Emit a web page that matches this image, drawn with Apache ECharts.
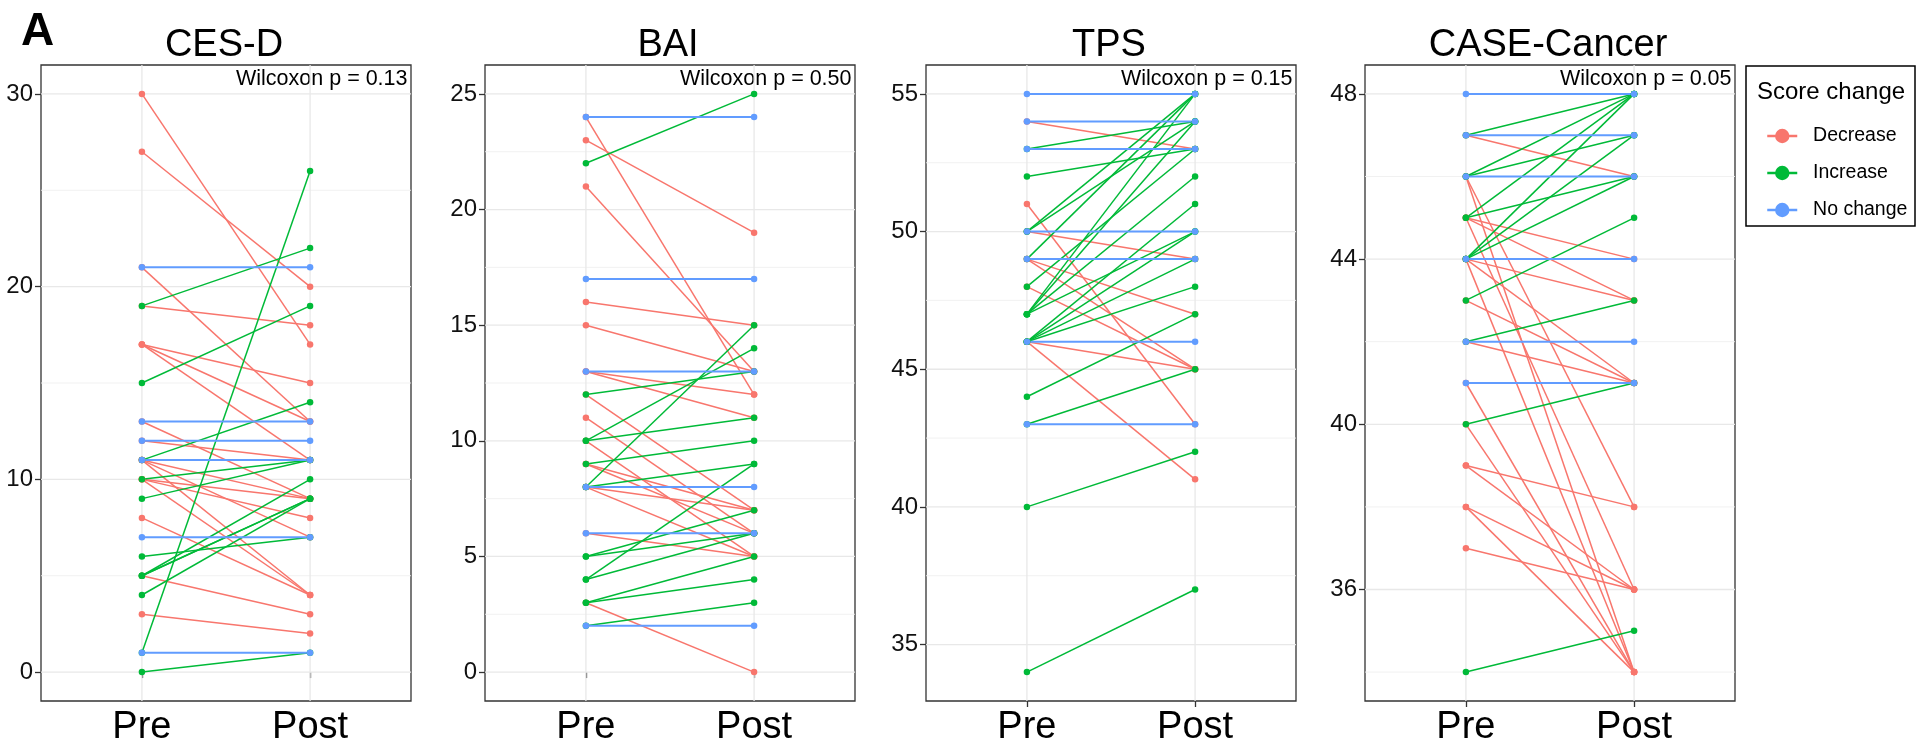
<!DOCTYPE html>
<html><head><meta charset="utf-8">
<script src="https://cdn.jsdelivr.net/npm/echarts@6/dist/echarts.min.js"></script>
<style>html,body{margin:0;padding:0;background:#fff}#c{width:1917px;height:747px}</style>
</head><body><div id="c"></div>
<script>
const panelTitles = ['CES-D', 'BAI', 'TPS', 'CASE-Cancer'];
const pValues = ['0.13', '0.50', '0.15', '0.05'];
const timeLabels = ['Pre', 'Post'];
const changeNames = ['Decrease', 'Increase', 'No change'];
const changeColors = ['#F8766D', '#00BA38', '#619CFF'];

const cesdPre  = [30,27,21,19,17,17,17,13,12,11,11,10,10,10,8,11,5,3, 1,19,15,11,10,9,6,5,5,5,4,0, 21,13,12,11,7,1];
const cesdPost = [17,20,13,18,15,13,11,9,11,9,7,9,8,4,4,4,3,2, 26,22,19,14,11,11,7,10,9,9,9,1, 21,13,12,11,7,1];
const baiPre   = [24,23,21,16,15,13,13,12,11,10,9,9,8,8,6,3, 22,12,10,10,9,8,8,5,5,4,4,3,3,2, 24,17,13,8,6,2];
const baiPost  = [12,19,13,15,13,12,11,7,6,5,7,6,7,5,5,0, 25,13,11,14,10,9,15,7,6,9,6,5,4,3, 24,17,13,8,6,2];
const tpsPre   = [54,51,50,49,49,48,46,46, 53,52,50,49,47,50,47,48,47,46,47,46,46,46,44,43,40,34, 55,54,53,50,49,46,43];
const tpsPost  = [53,43,49,47,45,45,45,41, 54,53,55,55,55,54,54,53,52,51,50,50,49,48,47,45,42,37, 55,54,53,50,49,46,43];
const casePre  = [47,46,46,45,45,45,44,44,44,43,42,41,40,39,39,38,38,37, 47,46,45,44,46,44,45,44,43,42,40,34, 48,47,46,44,42,41];
const casePost = [46,38,34,44,36,43,43,41,34,41,41,34,34,38,36,36,34,36, 48,48,48,48,47,47,46,46,45,43,41,35, 48,47,46,44,42,41];

const cesdTicks = [0,10,20,30];      const cesdMinor = [5,15,25];
const baiTicks  = [0,5,10,15,20,25]; const baiMinor  = [2.5,7.5,12.5,17.5,22.5];
const tpsTicks  = [35,40,45,50,55];  const tpsMinor  = [37.5,42.5,47.5,52.5];
const caseTicks = [36,40,44,48];     const caseMinor = [34,38,42,46];

const panels = [
  {pre: cesdPre, post: cesdPost, ticks: cesdTicks, minor: cesdMinor, min: -1.5, max: 31.5},
  {pre: baiPre, post: baiPost, ticks: baiTicks, minor: baiMinor, min: -1.25, max: 26.25},
  {pre: tpsPre, post: tpsPost, ticks: tpsTicks, minor: tpsMinor, min: 32.95, max: 56.05},
  {pre: casePre, post: casePost, ticks: caseTicks, minor: caseMinor, min: 33.3, max: 48.7}
];

const FONT = 'Liberation Sans, Arial, Helvetica, sans-serif';
const lefts = [41, 485, 926, 1365];
const W = 370, TOP = 65, H = 638;

const grids = [], xAxes = [], yAxes = [], series = [], graphics = [];

function changeIdx(a, b) { return b < a ? 0 : (b > a ? 1 : 2); }

panels.forEach((p, i) => {
  grids.push({left: lefts[i], top: TOP, width: W, height: H, show: true,
    borderColor: '#333', borderWidth: 1.3, backgroundColor: 'transparent', containLabel: false});
  xAxes.push({type: 'value', gridIndex: i, min: 0.4, max: 2.6,
    axisLine: {show: false}, splitLine: {show: false},
    axisTick: {show: true, customValues: [1, 2], length: 6, lineStyle: {color: '#333', width: 1.3}},
    axisLabel: {show: true, customValues: [1, 2], formatter: v => timeLabels[Math.round(v) - 1],
      fontSize: 38, color: '#000', fontFamily: FONT, margin: 8}});
  yAxes.push({type: 'value', gridIndex: i, min: p.min, max: p.max,
    axisLine: {show: false}, splitLine: {show: false},
    axisTick: {show: true, customValues: p.ticks, length: 6, lineStyle: {color: '#333', width: 1.3}},
    axisLabel: {show: true, customValues: p.ticks, fontSize: 24, color: '#111', fontFamily: FONT, margin: 8}});

  const gl = (data, major) => series.push({type: 'line', xAxisIndex: i, yAxisIndex: i, data,
    symbol: 'none', silent: true, animation: false, z: 1, legendHoverLink: false,
    lineStyle: {color: major ? '#e8e8e8' : '#efefef', width: major ? 1.3 : 0.9}});
  p.minor.forEach(v => gl([[0.4, v], [2.6, v]], false));
  p.ticks.forEach(v => gl([[0.4, v], [2.6, v]], true));
  [1, 2].forEach(x => gl([[x, p.min], [x, p.max]], true));

  const pts = [[], [], []];
  p.pre.forEach((a, k) => {
    const b = p.post[k];
    const c = changeIdx(a, b);
    series.push({type: 'line', name: changeNames[c], xAxisIndex: i, yAxisIndex: i,
      data: [[1, a], [2, b]], symbol: 'circle', symbolSize: 9, showSymbol: false,
      silent: true, animation: false, z: 2,
      itemStyle: {color: changeColors[c]},
      lineStyle: {color: changeColors[c], width: c === 2 ? 2 : 1.5}});
    pts[c].push([1, a]);
    pts[c].push([2, b]);
  });
  pts.forEach((d, c) => series.push({type: 'scatter', name: 'pts' + i + '_' + c,
    xAxisIndex: i, yAxisIndex: i, data: d, symbol: 'circle', symbolSize: 6.5,
    silent: true, animation: false, z: 3, itemStyle: {color: changeColors[c], opacity: 1}}));

  graphics.push({type: 'text', x: lefts[i] + W / 2 - 2, y: 46, style: {text: panelTitles[i],
    font: '38px ' + FONT, fill: '#000', textAlign: 'center', textVerticalAlign: 'middle'}});
  graphics.push({type: 'text', x: lefts[i] + W - 3.5, y: 79, style: {text: 'Wilcoxon p = ' + pValues[i],
    font: '21.5px ' + FONT, fill: '#000', textAlign: 'right', textVerticalAlign: 'middle'}});
});

graphics.push({type: 'text', x: 21, y: 32, style: {text: 'A', font: 'bold 46px ' + FONT,
  fill: '#000', textAlign: 'left', textVerticalAlign: 'middle'}});
graphics.push({type: 'rect', shape: {x: 1746, y: 66, width: 169, height: 160},
  style: {fill: '#fff', stroke: '#000', lineWidth: 1.5}, z: -1});
graphics.push({type: 'text', x: 1757, y: 92, style: {text: 'Score change', font: '24px ' + FONT,
  fill: '#000', textAlign: 'left', textVerticalAlign: 'middle'}});

const chart = echarts.init(document.getElementById('c'), null, {renderer: 'canvas'});
chart.setOption({
  animation: false,
  backgroundColor: '#fff',
  grid: grids, xAxis: xAxes, yAxis: yAxes, series,
  graphic: graphics,
  legend: {data: changeNames.map(n => ({name: n})), orient: 'vertical', left: 1761, top: 121,
    itemWidth: 30, itemHeight: 18, itemGap: 17, selectedMode: false, z: 10,
    lineStyle: {width: 2.5},
    formatter: name => '  ' + name,
    textStyle: {fontSize: 19.5, color: '#000', fontFamily: FONT}}
});
</script></body></html>
